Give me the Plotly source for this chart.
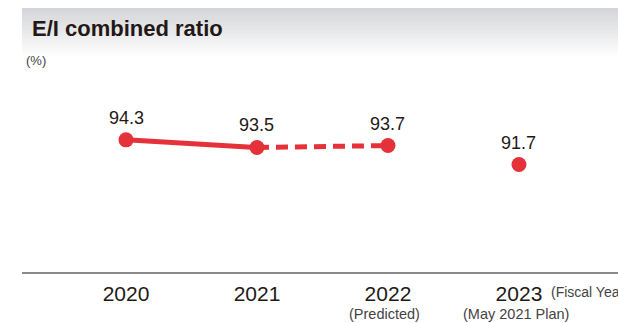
import plotly.graph_objects as go

years = ["2020", "2021", "2022", "2023"]
values = [94.3, 93.5, 93.7, 91.7]
sublabels = ["", "", "(Predicted)", "(May 2021 Plan)"]
title = "E/I combined ratio"
unit = "(%)"
red = "#e5323a"
dark = "#231815"
FONT = "Liberation Sans"

W, H = 618, 323
ml, mr, mt, mb = 22, 0, 60, 51
pw, ph = W - ml - mr, H - mt - mb
def px_x(p):
    return (p - ml) / pw
def px_y(p):
    return 1 - (p - mt) / ph

xi = list(range(len(years)))
fig = go.Figure()
fig.add_trace(go.Scatter(x=xi[0:2], y=values[0:2], mode="lines",
                         line=dict(color=red, width=5), hoverinfo="skip"))
fig.add_trace(go.Scatter(x=xi[1:3], y=values[1:3], mode="lines",
                         line=dict(color=red, width=5, dash="12px,7px"), hoverinfo="skip"))
fig.add_trace(go.Scatter(x=xi, y=values, mode="markers",
                         marker=dict(color=red, size=15), hoverinfo="skip"))

ann = []
for x, v in zip(xi, values):
    ann.append(dict(x=x, y=v, text=f"{v:.1f}", showarrow=False, yshift=22,
                    yanchor="middle", font=dict(size=18, color=dark, family=FONT)))
for x, s in zip(xi, sublabels):
    if s:
        ann.append(dict(x=x, y=0, yref="paper", text=s, showarrow=False, yshift=-42,
                        yanchor="middle", xshift=-3,
                        font=dict(size=14.5, color="#444", family=FONT)))
ann.append(dict(x=3, y=0, yref="paper", text="(Fiscal Year)", showarrow=False,
                xanchor="left", yanchor="middle", xshift=30, yshift=-20,
                font=dict(size=14, color="#444", family=FONT)))
ann.append(dict(x=px_x(30), y=px_y(28), xref="paper", yref="paper",
                text=f"<b>{title}</b>", showarrow=False, xanchor="left",
                yanchor="middle", font=dict(size=22, color=dark, family=FONT)))
ann.append(dict(x=px_x(24), y=px_y(60), xref="paper", yref="paper", text=unit,
                showarrow=False, xanchor="left", yanchor="middle",
                font=dict(size=13, color="#444", family=FONT)))

shapes = []
n = 24
top, bot = 8, 58
c0 = (213, 214, 217)
for i in range(n):
    t = i / (n - 1)
    col = tuple(int(c0[k] + (255 - c0[k]) * t) for k in range(3))
    y0 = top + (bot - top) * i / n
    y1 = top + (bot - top) * (i + 1) / n
    shapes.append(dict(type="rect", xref="paper", yref="paper",
                       x0=px_x(22), x1=px_x(618), y0=px_y(y0), y1=px_y(y1 + 0.5),
                       fillcolor=f"rgb{col}", line=dict(width=0), layer="below"))

fig.update_layout(
    width=W, height=H, margin=dict(l=ml, r=mr, t=mt, b=mb),
    paper_bgcolor="white", plot_bgcolor="white", showlegend=False,
    annotations=ann, shapes=shapes,
    xaxis=dict(range=[-0.794, 3.756], tickvals=xi, ticktext=years, showgrid=False,
               zeroline=False, showline=True, linecolor="#8a8a8a", linewidth=2,
               ticks="", ticklabelstandoff=2,
               tickfont=dict(size=21, color=dark, family=FONT)),
    yaxis=dict(range=[80.4, 102.7], visible=False, showgrid=False, zeroline=False),
)
fig.write_html("out.html")
